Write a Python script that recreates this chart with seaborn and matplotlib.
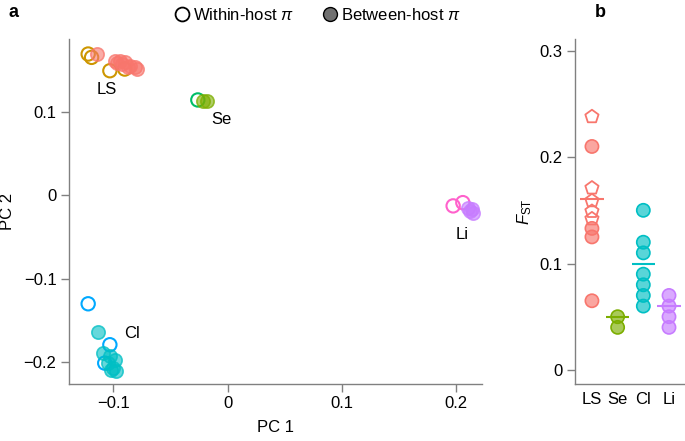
"""PCA of within/between-host diversity (a) and F_ST per tissue group (b)."""
import numpy as np
import pandas as pd
import matplotlib
matplotlib.use("Agg")
import matplotlib.pyplot as plt
from matplotlib.lines import Line2D
from matplotlib import ticker
import seaborn as sns

# ---- panel a: PC coordinates ----
groups = ["LS", "Se", "Cl", "Li"]

ls_within_x = [-0.122, -0.119, -0.103, -0.090]
ls_within_y = [0.169, 0.165, 0.149, 0.151]
ls_between_x = [-0.1147, -0.0987, -0.0943, -0.090, -0.0855, -0.081, -0.0795, -0.097, -0.0925, -0.087]
ls_between_y = [0.169, 0.161, 0.161, 0.159, 0.155, 0.153, 0.151, 0.158, 0.157, 0.154]

se_within_x = [-0.026]
se_within_y = [0.114]
se_between_x = [-0.0214, -0.0184]
se_between_y = [0.113, 0.113]

cl_within_x = [-0.122, -0.103, -0.1075]
cl_within_y = [-0.130, -0.179, -0.201]
cl_between_x = [-0.1133, -0.109, -0.103, -0.0987, -0.1045, -0.100, -0.0972, -0.1016]
cl_between_y = [-0.164, -0.189, -0.193, -0.197, -0.201, -0.207, -0.211, -0.209]

li_within_x = [0.1975, 0.206]
li_within_y = [-0.0128, -0.0089]
li_between_x = [0.2104, 0.2137, 0.2148, 0.212]
li_between_y = [-0.0149, -0.0168, -0.0209, -0.019]

label_x = [-0.106, -0.0053, -0.084, 0.205]
label_y = [0.126, 0.0912, -0.165, -0.0468]

# ---- panel b: F_ST values ----
fst_circle_group = ["LS"] * 4 + ["Se"] * 2 + ["Cl"] * 7 + ["Li"] * 4
fst_circle_vals = [0.210, 0.133, 0.125, 0.065,
                   0.050, 0.040,
                   0.150, 0.120, 0.110, 0.090, 0.080, 0.070, 0.060,
                   0.070, 0.060, 0.050, 0.040]
fst_pent_group = ["LS"] * 5
fst_pent_vals = [0.238, 0.171, 0.159, 0.149, 0.142]
fst_mean = [0.161, 0.050, 0.100, 0.060]

between_colors = {"LS": "#F8766D", "Se": "#7CAE00", "Cl": "#00BFC4", "Li": "#C77CFF"}
within_colors = {"LS": "#CD9600", "Se": "#00BE67", "Cl": "#00A9FF", "Li": "#FF61CC"}

sns.set_style("white")
plt.rcParams["font.family"] = ["Liberation Sans", "DejaVu Sans"]
plt.rcParams["mathtext.fontset"] = "custom"
plt.rcParams["mathtext.rm"] = "Liberation Sans"
plt.rcParams["mathtext.it"] = "Liberation Sans:italic"
plt.rcParams["font.size"] = 12
plt.rcParams["text.color"] = "black"
plt.rcParams["axes.labelcolor"] = "black"
plt.rcParams["xtick.labelcolor"] = "black"
plt.rcParams["ytick.labelcolor"] = "black"

SPINE = "#808080"
PT_SIZE = 92

fig = plt.figure(figsize=(6.85, 4.41), dpi=100)
ax_a = fig.add_axes([0.1007, 0.1293, 0.6025, 0.7823])
ax_b = fig.add_axes([0.8394, 0.1293, 0.159, 0.7823])

pc = {
    "LS": (ls_within_x, ls_within_y, ls_between_x, ls_between_y),
    "Se": (se_within_x, se_within_y, se_between_x, se_between_y),
    "Cl": (cl_within_x, cl_within_y, cl_between_x, cl_between_y),
    "Li": (li_within_x, li_within_y, li_between_x, li_between_y),
}

for g in groups:
    wx, wy, bx, by = pc[g]
    sns.scatterplot(x=wx, y=wy, ax=ax_a, s=PT_SIZE, color=within_colors[g],
                    facecolor="none", edgecolor=within_colors[g], linewidth=1.5, legend=False)
for g in groups:
    wx, wy, bx, by = pc[g]
    col = matplotlib.colors.to_rgba(between_colors[g])
    sns.scatterplot(x=bx, y=by, ax=ax_a, s=PT_SIZE, color=between_colors[g],
                    facecolor=col[:3] + (0.6,), edgecolor=col[:3] + (0.75,),
                    linewidth=1.2, legend=False)

for g, tx, ty in zip(groups, label_x, label_y):
    ax_a.text(tx, ty, g, ha="center", va="center", fontsize=12)

ax_a.set_xlim(-0.1388, 0.2225)
ax_a.set_ylim(-0.226, 0.187)
ax_a.set_xticks([-0.1, 0, 0.1, 0.2])
ax_a.set_yticks([-0.2, -0.1, 0, 0.1])
fmt = ticker.FuncFormatter(lambda v, p: f"{v:g}".replace("-", "\u2212"))
ax_a.xaxis.set_major_formatter(fmt)
ax_a.yaxis.set_major_formatter(fmt)
ax_a.set_xlabel("PC 1", fontsize=12, labelpad=6)
ax_a.set_ylabel("PC 2", fontsize=12, labelpad=6)

# ---- panel b ----
circ_df = pd.DataFrame({"group": fst_circle_group, "fst": fst_circle_vals})
pent_df = pd.DataFrame({"group": fst_pent_group, "fst": fst_pent_vals})

sns.stripplot(data=circ_df, x="group", y="fst", hue="group", order=groups,
              hue_order=groups, palette=between_colors, jitter=False, size=9.5,
              linewidth=1.2, ax=ax_b, legend=False)
n_circ = len(ax_b.collections)
for coll in ax_b.collections:
    fc = coll.get_facecolors()
    if len(fc):
        ec = fc.copy()
        fc[:, 3] = 0.65
        coll.set_facecolors(fc)
        coll.set_edgecolors(ec)

sns.stripplot(data=pent_df, x="group", y="fst", hue="group", order=groups,
              hue_order=groups, palette=between_colors, jitter=False, size=10,
              marker="p", linewidth=1.3, ax=ax_b, legend=False)
for coll in ax_b.collections[n_circ:]:
    fc = coll.get_facecolors()
    if len(fc):
        coll.set_edgecolors(fc)
        coll.set_facecolors("none")

xpos = np.arange(len(groups))
ax_b.hlines(fst_mean, xpos - 0.45, xpos + 0.45,
            colors=[between_colors[g] for g in groups], linewidth=1.5, zorder=5)

ax_b.set_xlim(-0.66, 3.58)
ax_b.set_ylim(-0.0132, 0.311)
ax_b.set_yticks([0, 0.1, 0.2, 0.3])
ax_b.yaxis.set_major_formatter(fmt)
ax_b.set_xlabel("")
ax_b.set_ylabel(r"$F_{\mathrm{ST}}$", fontsize=12, labelpad=4)

for ax in (ax_a, ax_b):
    sns.despine(ax=ax)
    for side in ("left", "bottom"):
        ax.spines[side].set_color(SPINE)
        ax.spines[side].set_linewidth(1.0)
    ax.tick_params(axis="both", direction="out", length=6, width=1.0, color=SPINE,
                   labelsize=12, pad=3, left=True, bottom=True, labelcolor="black")
ax_b.tick_params(axis="x", length=0, pad=6)

# legend
handles = [
    Line2D([], [], marker="o", linestyle="none", markersize=10, markerfacecolor="none",
           markeredgecolor="black", markeredgewidth=1.3),
    Line2D([], [], marker="o", linestyle="none", markersize=10, markerfacecolor="#707070",
           markeredgecolor="black", markeredgewidth=1.0),
]
fig.legend(handles, ["Within-host $\\pi$", "Between-host $\\pi$"], loc="center",
           bbox_to_anchor=(0.463, 0.966), ncol=2, frameon=False, fontsize=12,
           handletextpad=0.2, columnspacing=1.6, handlelength=1.0)

fig.text(0.012, 0.972, "a", fontsize=13, fontweight="bold", va="center")
fig.text(0.868, 0.972, "b", fontsize=13, fontweight="bold", va="center")

fig.savefig("out.png", dpi=100)
